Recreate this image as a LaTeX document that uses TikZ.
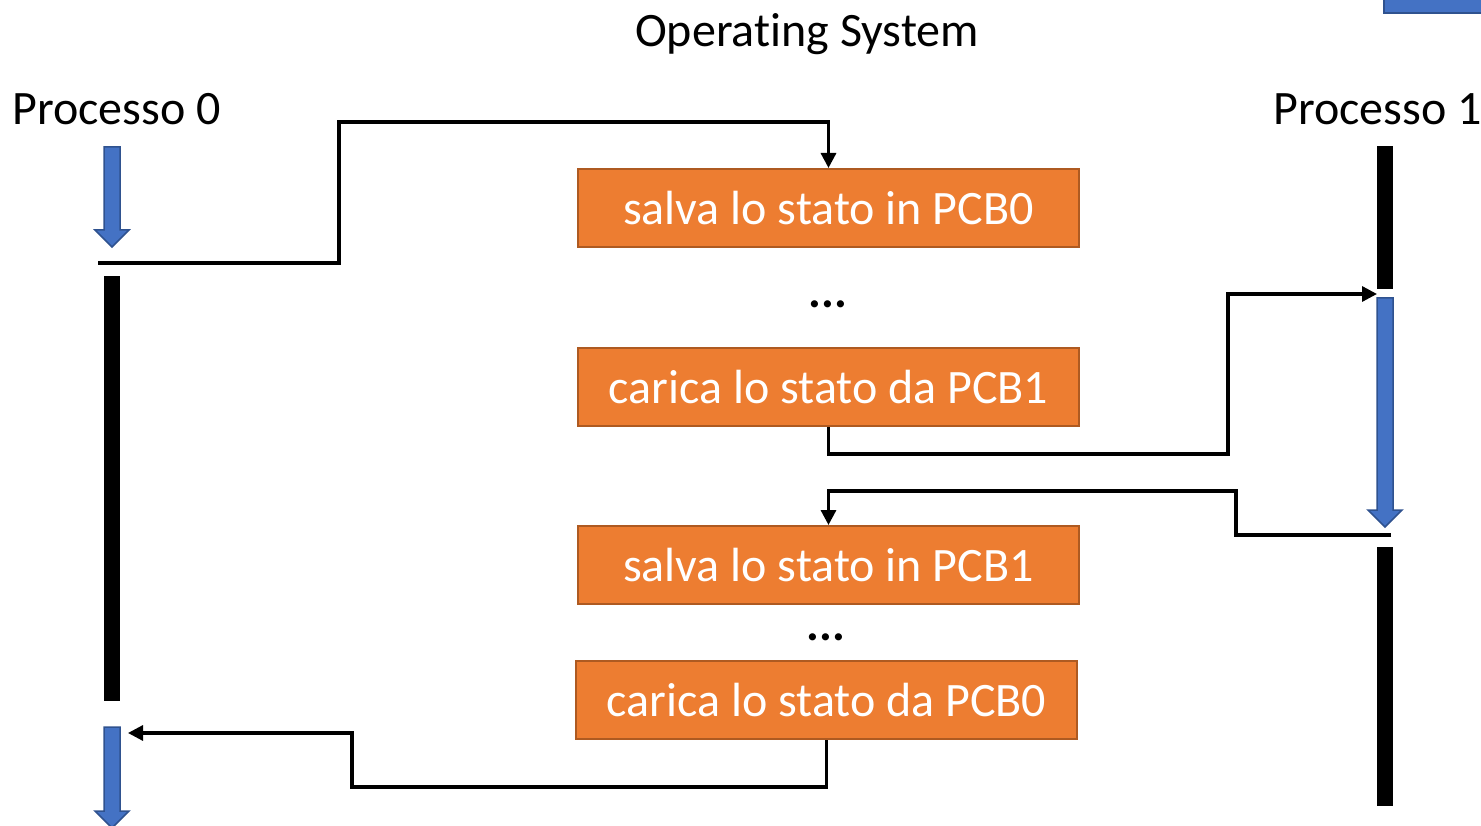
\documentclass[tikz,border=0pt]{standalone}
\usepackage{fontspec}
\setmainfont{Carlito}[Ligatures=NoCommon]
\usetikzlibrary{arrows.meta}
\definecolor{orfill}{HTML}{ED7D31}
\definecolor{ordraw}{HTML}{AE5A21}
\definecolor{blfill}{HTML}{4472C4}
\definecolor{bldraw}{HTML}{2F528F}
\newcommand\blockarr[3]{%
  \draw[blockstyle] (#1-8,#2) -- (#1+8,#2) -- (#1+8,#3-17) -- (#1+17,#3-17) -- (#1,#3) -- (#1-17,#3-17) -- (#1-8,#3-17) -- cycle;}
\tikzset{
  bigfont/.style={font=\fontsize{48}{57}\selectfont},
  lbl/.style={bigfont, inner sep=0pt, text=black},
  osbox/.style={bigfont, rectangle, fill=orfill, draw=ordraw, line width=2pt,
    text=white, minimum width=501pt, minimum height=78pt, inner sep=0pt},
  bar/.style={rectangle, fill=black, draw=none, minimum width=16pt, inner sep=0pt},
  blockstyle/.style={fill=blfill, draw=bldraw, line width=1.5pt, line join=miter},
  conn/.style={draw=black, line width=3.2pt, -{Triangle[length=15pt,width=15pt]}},
}
\begin{document}
\begin{tikzpicture}[x=1pt,y=-1pt]
\useasboundingbox (0,0) rectangle (1481,826);
% top right corner rectangle
\draw[fill=blfill, draw=bldraw, line width=2pt] (1384,-10) rectangle (1490,13);
% labels
\node[lbl, anchor=base] (title) at (807,47) {Operating System};
\node[lbl, anchor=base west] (p0) at (12,125) {Processo 0};
\node[lbl, anchor=base west] (p1) at (1273,125) {Processo 1};
% boxes
\node[osbox] (b1) at (828.5,208) {salva lo stato in PCB0};
\node[lbl, anchor=base] (d1) at (828,308) {\textbf{...}};
\node[osbox] (b2) at (828.5,387) {carica lo stato da PCB1};
\node[osbox] (b3) at (828.5,565) {salva lo stato in PCB1};
\node[lbl, anchor=base] (d2) at (826,640) {\textbf{...}};
\node[osbox] (b4) at (826.5,700) {carica lo stato da PCB0};
% black bars
\node[bar, minimum height=425pt] (bar0) at (112,488.5) {};
\node[bar, minimum height=143pt] (bar1a) at (1385,217.5) {};
\node[bar, minimum height=259pt] (bar1b) at (1385,676.5) {};
% blue block arrows
\blockarr{112}{147}{247}
\blockarr{112}{727}{828}
\blockarr{1385}{298}{527}
% free ends
\coordinate (c1) at (98,263);
\coordinate (c2) at (1377,294);
\coordinate (c3) at (1391,535);
\coordinate (c4) at (128,733);
% connectors
\draw[conn] (c1) -| (339,122) -| (b1.north);
\draw[conn] (b2.south) |- (1228,454) |- (c2);
\draw[conn] (c3) -| (1236,491) -| (b3.north);
\draw[conn] (b4.south) |- (352,787) |- (c4);
\end{tikzpicture}
\end{document}
